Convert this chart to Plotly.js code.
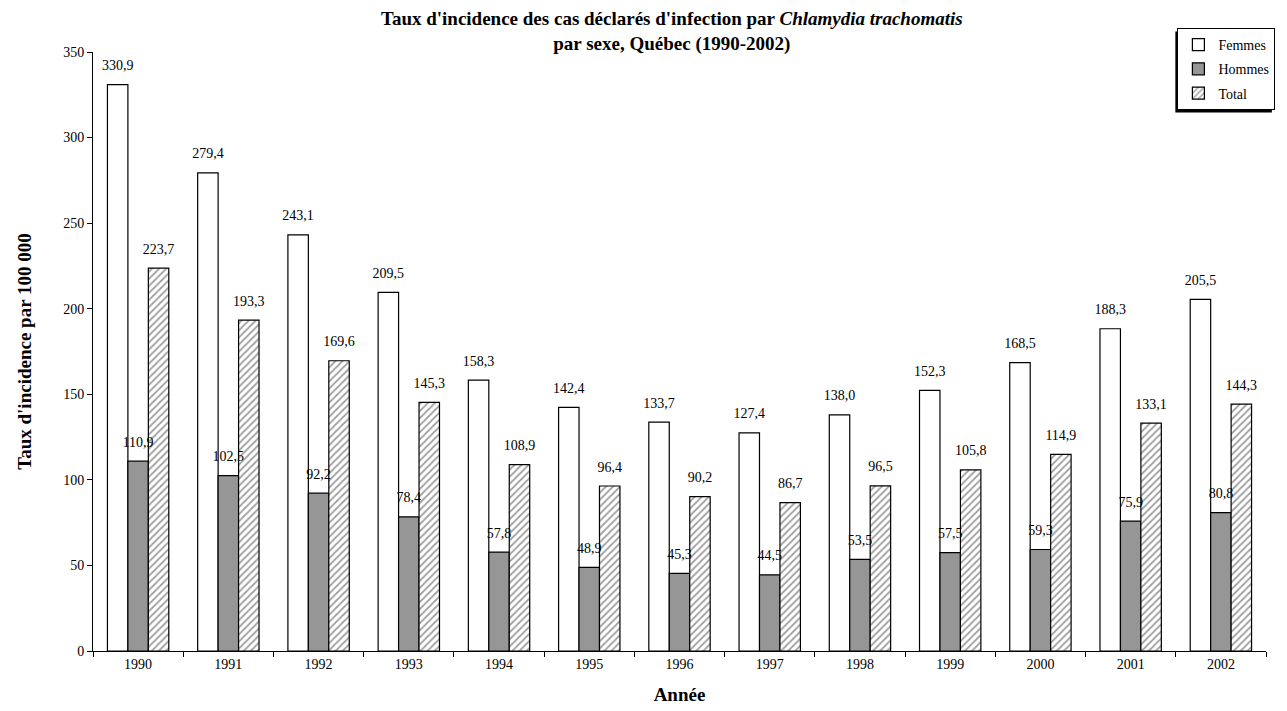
<!DOCTYPE html>
<html><head><meta charset="utf-8">
<script src="https://cdn.plot.ly/plotly-3.0.1.min.js"></script>
<style>html,body{margin:0;padding:0;background:#fff}</style>
</head><body>
<div id="chart" style="width:1287px;height:711px"></div>
<script>
const years = ['1990','1991','1992','1993','1994','1995','1996','1997','1998','1999','2000','2001','2002'];
const femmes = [330.9, 279.4, 243.1, 209.5, 158.3, 142.4, 133.7, 127.4, 138.0, 152.3, 168.5, 188.3, 205.5];
const hommes = [110.9, 102.5, 92.2, 78.4, 57.8, 48.9, 45.3, 44.5, 53.5, 57.5, 59.3, 75.9, 80.8];
const total = [223.7, 193.3, 169.6, 145.3, 108.9, 96.4, 90.2, 86.7, 96.5, 105.8, 114.9, 133.1, 144.3];
const seriesNames = ['Femmes', 'Hommes', 'Total'];

const fontFam = '"Liberation Serif", "Times New Roman", serif';
const series = [femmes, hommes, total];
const markers = [
  {color: '#ffffff', line: {color: '#000', width: 1.2}},
  {color: '#969696', line: {color: '#000', width: 1.2}},
  {color: '#ffffff', line: {color: '#000', width: 1.2},
   pattern: {shape: '/', fgcolor: '#a0a0a0', bgcolor: '#ffffff', size: 5, solidity: 0.35}}
];
const data = [];
series.forEach(function(vals, i){
  data.push({type: 'bar', name: seriesNames[i], x: years, y: vals, legendgroup: 'g' + i,
    offsetgroup: 'g' + i, marker: markers[i], hoverinfo: 'x+y'});
});
series.forEach(function(vals, i){
  data.push({type: 'scatter', mode: 'markers+text', x: years, y: vals, showlegend: false,
    offsetgroup: 'g' + i, texttemplate: '%{y:.1f}', textposition: 'top center',
    marker: {size: 16, opacity: 0},
    cliponaxis: false, textfont: {family: fontFam, size: 14, color: '#000'}, hoverinfo: 'skip'});
});
const layout = {
  width: 1287, height: 711,
  margin: {l: 93, r: 15, t: 52, b: 60},
  paper_bgcolor: '#fff', plot_bgcolor: '#fff',
  separators: ', ',
  font: {family: fontFam, size: 14, color: '#000'},
  barmode: 'group', bargap: 0.32, bargroupgap: 0,
  scattermode: 'group', scattergap: 0.32,
  title: {text: "<b>Taux d'incidence des cas déclarés d'infection par <i>Chlamydia trachomatis</i><br>par sexe, Québec (1990-2002)</b>",
    font: {family: fontFam, size: 19, color: '#000'}, x: 0.522, xref: 'container', y: 0.965, yanchor: 'top'},
  xaxis: {title: {text: '<b>Année</b>', font: {family: fontFam, size: 19}, standoff: 16},
    type: 'category', tickmode: 'linear', tick0: 0, dtick: 1,
    showline: true, linecolor: '#000', linewidth: 1, ticks: 'outside', ticklen: 5, tickcolor: '#000',
    tickson: 'boundaries', showgrid: false, tickfont: {family: fontFam, size: 14}},
  yaxis: {title: {text: "<b>Taux d'incidence par 100 000</b>", font: {family: fontFam, size: 19}, standoff: 26},
    range: [0, 350], dtick: 50, showline: true, linecolor: '#000', linewidth: 1,
    ticks: 'outside', ticklen: 5, tickcolor: '#000', showgrid: false, zeroline: false,
    tickfont: {family: fontFam, size: 14}},
  legend: {x: 1.008, xanchor: 'right', y: 1.04, yanchor: 'top', bgcolor: '#fff',
    bordercolor: '#000', borderwidth: 1, font: {family: fontFam, size: 14},
    itemwidth: 30, traceorder: 'grouped', tracegroupgap: 3},
  showlegend: true
};
Plotly.newPlot('chart', data, layout, {displayModeBar: false}).then(function(gd){
  const bg = gd.querySelector('.legend .bg');
  if (!bg) return;
  const r = bg.getBoundingClientRect();
  const c = gd.getBoundingClientRect();
  const off = 3;
  const px0 = r.left - c.left + off, px1 = r.right - c.left + off;
  const py0 = r.top - c.top + off, py1 = r.bottom - c.top + off;
  Plotly.relayout(gd, {shapes: [{type: 'rect', xref: 'paper', yref: 'paper', layer: 'below',
    x0: (px0 - 93)/1179, x1: (px1 - 93)/1179,
    y0: (651 - py1)/599, y1: (651 - py0)/599,
    fillcolor: '#000', line: {width: 0}}]});
});
</script>
</body></html>
